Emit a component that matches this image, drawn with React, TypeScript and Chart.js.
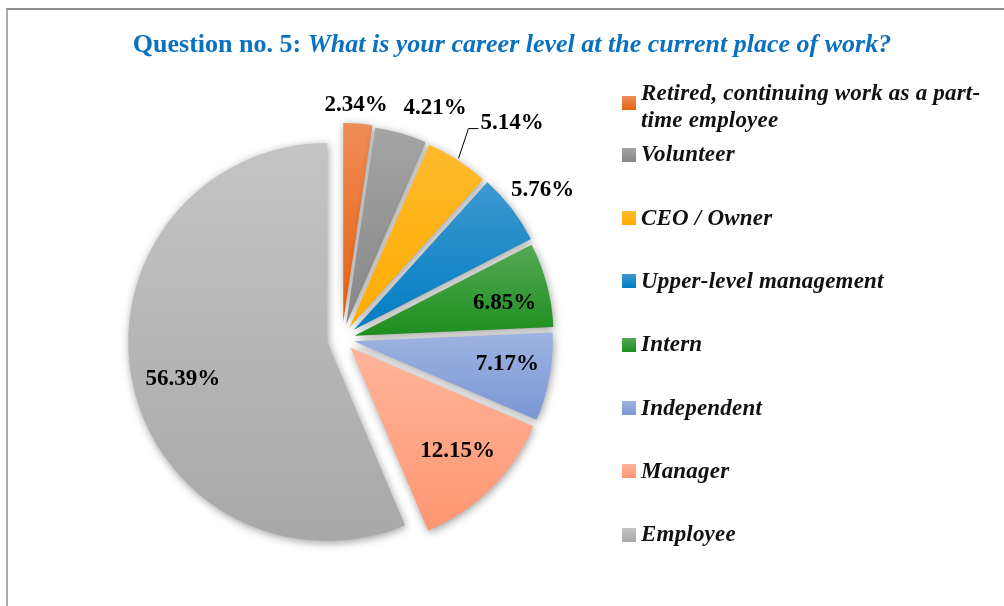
import React, { useEffect, useRef } from "react";
import { Chart, registerables } from "chart.js";

Chart.register(...registerables);

// ---------- data ----------
const titlePrefix = "Question no. 5:";
const titleQuestion = "What is your career level at the current place of work?";
const categories = [
  "Retired, continuing work as a part-time employee",
  "Volunteer",
  "CEO / Owner",
  "Upper-level management",
  "Intern",
  "Independent",
  "Manager",
  "Employee",
];
const percentages = [2.34, 4.21, 5.14, 5.76, 6.85, 7.17, 12.15, 56.39];

// ---------- styles ----------
const colorsTop = ["#F08C58", "#A4A4A4", "#FDBA2C", "#3D98CF", "#55A855", "#9DB3E2", "#FFB49A", "#C4C4C4"];
const colorsBottom = ["#E5620C", "#878787", "#FFAC00", "#007EC2", "#1D8E1D", "#7A96D3", "#FF9671", "#A8A8A8"];

const SERIF = "'Liberation Serif', 'Times New Roman', serif";
const LABEL_FONT_SIZE = 23;
const LEGEND_FONT_SIZE = 23;
const TITLE_FONT_SIZE = 26;

const pieStyle = {
  explode: [17, 15, 14, 15, 13, 12, 12, 15],
  labelRadius: [1.186, 1.261, 1.387, 1.261, 0.839, 0.839, 0.804, 0.822],
  labelAngleShiftDeg: [-0.8, 5.8, 5.2, 0.6, 1.9, -2.3, -1.4, -1.9],
  leader: [false, false, true, false, false, false, false, false],
};

function sliceGradient(chart: any, i: number) {
  const area = chart.chartArea;
  if (!area) return colorsBottom[i];
  const cx = (area.left + area.right) / 2;
  const cy = (area.top + area.bottom) / 2;
  const R = Math.min(area.right - area.left, area.bottom - area.top) / 2;
  const total = percentages.reduce((a, b) => a + b, 0);
  let before = 0;
  for (let k = 0; k < i; k++) before += percentages[k];
  const start = -Math.PI / 2 + (2 * Math.PI * before) / total;
  const end = start + (2 * Math.PI * percentages[i]) / total;
  let ymin = cy;
  let ymax = cy;
  const steps = 60;
  for (let s = 0; s <= steps; s++) {
    const a = start + ((end - start) * s) / steps;
    const y = cy + Math.sin(a) * R;
    ymin = Math.min(ymin, y);
    ymax = Math.max(ymax, y);
  }
  const g = chart.ctx.createLinearGradient(0, ymin, 0, ymax + 1);
  g.addColorStop(0, colorsTop[i]);
  g.addColorStop(1, colorsBottom[i]);
  return g;
}

const explodePlugin = {
  id: "explodeShadow",
  beforeDatasetDraw(chart: any, args: any) {
    const ctx = chart.ctx;
    args.meta.data.forEach((arc: any, i: number) => {
      const { startAngle, endAngle } = arc.getProps(["startAngle", "endAngle"], true);
      const mid = (startAngle + endAngle) / 2;
      const off = pieStyle.explode[i] || 0;
      ctx.save();
      ctx.translate(Math.cos(mid) * off, Math.sin(mid) * off);
      ctx.shadowColor = "rgba(0,0,0,0.38)";
      ctx.shadowBlur = 8;
      ctx.shadowOffsetX = 1;
      ctx.shadowOffsetY = 2;
      arc.draw(ctx);
      ctx.restore();
    });
    return false;
  },
};

const labelPlugin = {
  id: "pieLabels",
  afterDatasetsDraw(chart: any) {
    const ctx = chart.ctx;
    const meta = chart.getDatasetMeta(0);
    const values = chart.data.datasets[0].data as number[];
    ctx.save();
    ctx.font = `bold ${LABEL_FONT_SIZE}px ${SERIF}`;
    ctx.fillStyle = "#000";
    ctx.textAlign = "center";
    ctx.textBaseline = "alphabetic";
    meta.data.forEach((arc: any, i: number) => {
      const { x, y, startAngle, endAngle, outerRadius } = arc.getProps(
        ["x", "y", "startAngle", "endAngle", "outerRadius"],
        true
      );
      const mid = (startAngle + endAngle) / 2;
      const a = mid + (pieStyle.labelAngleShiftDeg[i] * Math.PI) / 180;
      const f = pieStyle.labelRadius[i];
      const lx = x + Math.cos(a) * f * outerRadius;
      const ly = y + Math.sin(a) * f * outerRadius;
      const text = values[i].toFixed(2) + "%";
      ctx.fillText(text, lx, ly + LABEL_FONT_SIZE * 0.34);
      if (pieStyle.leader[i]) {
        const w = ctx.measureText(text).width;
        const left = lx - w / 2;
        const r0 = outerRadius + (pieStyle.explode[i] || 0) + 2;
        ctx.beginPath();
        ctx.moveTo(x + Math.cos(mid) * r0, y + Math.sin(mid) * r0);
        ctx.lineTo(left - 12, ly + 7);
        ctx.lineTo(left - 2, ly + 7);
        ctx.strokeStyle = "#000";
        ctx.lineWidth = 1;
        ctx.stroke();
      }
    });
    ctx.restore();
  },
};

function baselineTop(baseline: number, fontSize: number, lineHeight: number) {
  return baseline - ((lineHeight - 1.107 * fontSize) / 2 + 0.891 * fontSize);
}

export default function App() {
  const canvasRef = useRef<HTMLCanvasElement | null>(null);

  useEffect(() => {
    if (!canvasRef.current) return;
    const chart = new Chart(canvasRef.current, {
      type: "pie",
      data: {
        labels: categories,
        datasets: [
          {
            data: percentages,
            backgroundColor: (c: any) => sliceGradient(c.chart, c.dataIndex),
            borderWidth: 0,
            offset: 0,
            hoverOffset: 0,
          },
        ],
      },
      options: {
        animation: false,
        responsive: true,
        maintainAspectRatio: false,
        events: [],
        layout: { padding: { left: 143, right: 463, top: 140, bottom: 68 } },
        plugins: {
          legend: { display: false },
          tooltip: { enabled: false },
          title: { display: false },
        },
      },
      plugins: [explodePlugin, labelPlugin],
    });
    return () => chart.destroy();
  }, []);

  const legendLH = 27;
  return (
    <div
      style={{
        position: "fixed",
        left: 0,
        top: 0,
        width: 1004,
        height: 606,
        overflow: "hidden",
        background: "#fff",
      }}
    >
      <div
        style={{
          position: "absolute",
          left: 6,
          top: 8,
          width: 1100,
          height: 700,
          borderLeft: "2px solid #ABABAB",
          borderTop: "2px solid #8E8E8E",
          boxSizing: "border-box",
        }}
      />
      <div style={{ position: "absolute", left: 0, top: 0, width: 1004, height: 606 }}>
        <canvas ref={canvasRef} />
      </div>
      <div
        style={{
          position: "absolute",
          left: 12,
          width: 1000,
          top: baselineTop(53, TITLE_FONT_SIZE, 30),
          lineHeight: "30px",
          fontSize: TITLE_FONT_SIZE,
          fontFamily: SERIF,
          fontWeight: "bold",
          color: "#0A70C0",
          textAlign: "center",
          whiteSpace: "nowrap",
        }}
      >
        {titlePrefix} <span style={{ fontStyle: "italic" }}>{titleQuestion}</span>
      </div>
      {categories.map((name, i) => {
        const baseline = i === 0 ? 100 : 161.7 + (i - 1) * 63.3;
        const sqTop = i === 0 ? 96 : baseline - 14;
        return (
          <React.Fragment key={name}>
            <div
              style={{
                position: "absolute",
                left: 622,
                top: sqTop,
                width: 14,
                height: 14,
                background: `linear-gradient(${colorsTop[i]}, ${colorsBottom[i]})`,
              }}
            />
            <div
              style={{
                position: "absolute",
                left: 641,
                top: baselineTop(baseline, LEGEND_FONT_SIZE, legendLH),
                lineHeight: legendLH + "px",
                fontSize: LEGEND_FONT_SIZE,
                fontFamily: SERIF,
                fontWeight: "bold",
                fontStyle: "italic",
                color: "#111",
                whiteSpace: "pre",
                letterSpacing: "0.2px",
              }}
            >
              {name.replace("part-", "part-\n")}
            </div>
          </React.Fragment>
        );
      })}
    </div>
  );
}
